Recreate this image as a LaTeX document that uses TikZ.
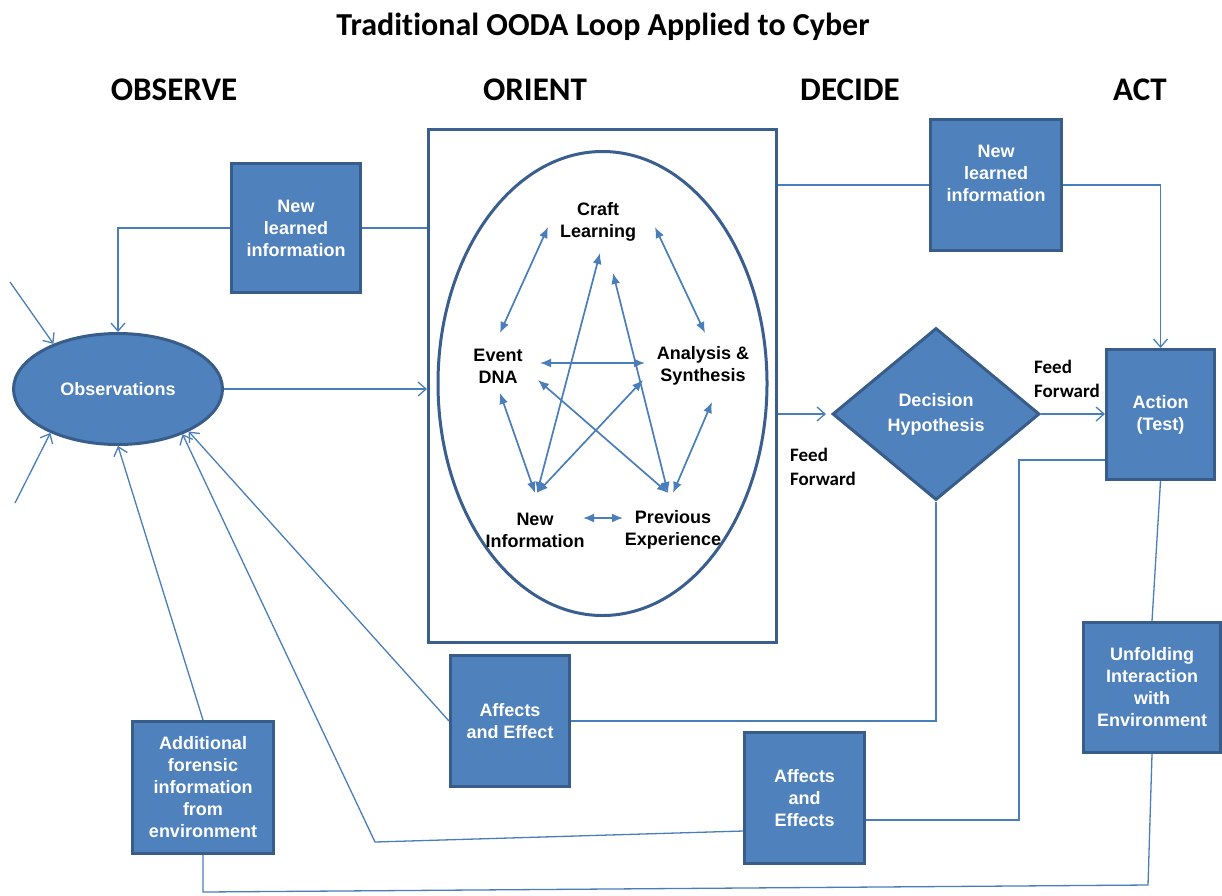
\documentclass[tikz,border=0pt]{standalone}
\usepackage{fontspec}
\setmainfont{Liberation Sans}
\newfontfamily\calib[Ligatures=NoCommon]{Carlito}
\usetikzlibrary{shapes.geometric,arrows.meta}
\definecolor{boxfill}{HTML}{4F81BD}
\definecolor{boxline}{HTML}{385D8A}
\definecolor{connc}{HTML}{4A7EBB}
\definecolor{frame}{HTML}{3A5F8E}
\tikzset{
  bluebox/.style={draw=boxline, line width=3pt, fill=boxfill, text=white,
    font=\bfseries\fontsize{18}{22}\selectfont, align=center, inner sep=0pt},
  boxtext/.style={text=white, font=\bfseries\fontsize{18}{22}\selectfont, align=center, inner sep=0pt},
  conn/.style={draw=connc, line width=1.3pt},
  arr/.style={conn, -{Straight Barb[length=8pt,width=14pt,line width=1.3pt]}},
  inarr/.style={draw=connc, line width=1.7pt, {Latex[length=11pt,width=9pt]}-{Latex[length=11pt,width=9pt]}},
  intext/.style={font=\bfseries\fontsize{18}{22}\selectfont, align=center, text=black, inner sep=0pt},
  headtext/.style={font=\calib\bfseries\fontsize{33}{36}\selectfont, anchor=base, inner sep=0pt},
  fftext/.style={font=\calib\bfseries\fontsize{19}{24}\selectfont, align=left, anchor=west, inner sep=0pt}
}
\begin{document}
\begin{tikzpicture}[x=1pt,y=-1pt]
\useasboundingbox (0,0) rectangle (1222,895);
% titles
\node[font=\calib\bfseries\fontsize{32}{36}\selectfont, anchor=base, inner sep=0pt] (title) at (603,35) {Traditional OODA Loop Applied to Cyber};
\node[headtext] (hobs) at (174,100) {OBSERVE};
\node[headtext] (hori) at (535,100) {ORIENT};
\node[headtext] (hdec) at (850,100) {DECIDE};
\node[headtext] (hact) at (1140,100) {ACT};

% orient frame and inner ellipse
\node[draw=frame, line width=3pt, fill=white, minimum width=348, minimum height=513, inner sep=0pt] (orient) at (602.5,386) {};
\node[draw=frame, line width=3pt, ellipse, minimum width=329, minimum height=464, inner sep=0pt] (inell) at (602.5,383.5) {};

% inner texts
\node[intext] (craft) at (598,222) {Craft\\Learning};
\node[intext] (event) at (498,366) {Event\\DNA};
\node[intext] (anal) at (703,366) {Analysis \&\\Synthesis};
\node[intext] (newinf) at (535,530) {New\\Information};
\node[intext] (prev) at (673,530) {Previous\\Experience};

% inner arrow endpoints
\coordinate (c1a) at (548,227); \coordinate (c1b) at (500,333);
\coordinate (c2a) at (655,227); \coordinate (c2b) at (705,333);
\coordinate (c3a) at (540,363); \coordinate (c3b) at (645,363);
\coordinate (c4a) at (500,393); \coordinate (c4b) at (535,493);
\coordinate (c5a) at (537,493); \coordinate (c5b) at (600,253);
\coordinate (c6a) at (537,493); \coordinate (c6b) at (643,380);
\coordinate (c7a) at (668,493); \coordinate (c7b) at (613,273);
\coordinate (c8a) at (668,493); \coordinate (c8b) at (538,380);
\coordinate (c9a) at (673,493); \coordinate (c9b) at (712,402);
\coordinate (c10a) at (583,518); \coordinate (c10b) at (623,518);
\foreach \i in {1,...,10} {\draw[inarr] (c\i a) -- (c\i b);}

% blue boxes
\node[bluebox] (nliL) at (296,228) [minimum width=129, minimum height=129] {New\\learned\\information};
\node[bluebox] (nliR) at (996,185) [minimum width=131, minimum height=131] {};
\node[boxtext] (nliRt) at (996,173) {New\\learned\\information};
\node[bluebox, ellipse, minimum width=209, minimum height=111] (obs) at (118,389) {Observations};
\node[bluebox, diamond, minimum width=207, minimum height=172] (dec) at (936,414) {Decision\\[3pt]Hypothesis};
\node[bluebox, minimum width=108, minimum height=130] (act) at (1160.5,414.5) {Action\\(Test)};
\node[bluebox, minimum width=119, minimum height=131] (ae1) at (510,721) {Affects\\and Effect};
\node[bluebox, minimum width=120, minimum height=131] (ae2) at (804.5,798) {Affects\\and\\Effects};
\node[bluebox, minimum width=137, minimum height=130] (unf) at (1152,687.5) {Unfolding\\Interaction\\with\\Environment};
\node[bluebox, minimum width=141, minimum height=132] (for) at (203,787.5) {Additional\\forensic\\information\\from\\environment};

% labels
\node[fftext] (ff1) at (790,467) {Feed\\Forward};
\node[fftext] (ff2) at (1034,379) {Feed\\Forward};

% outer connectors
\draw[conn] (orient.west |- nliL.east) -- (nliL.east);
\draw[arr] (nliL.west) -| (obs.north);
\draw[arr] (obs.east) -- (orient.west |- obs.east);
\draw[conn] (orient.east |- nliR.west) -- (nliR.west);
\draw[arr] (nliR.east) -| (act.north);
\draw[arr, shorten >=5pt] (orient.east |- dec.west) -- (dec.west);
\draw[arr] (dec.east) -- (act.west |- dec.east);
\draw[conn] (ae1.east) -| (dec.south);
\draw[arr] (ae1.west) -- (obs.329);
\coordinate (ae2l) at (743,831);
\coordinate (bendL) at (375,842);
\draw[arr] (ae2l) -- (bendL) -- (obs.325);
\coordinate (ae2r) at (866,820);
\coordinate (rup) at (1019,820);
\coordinate (rtop) at (1019,460);
\coordinate (actl) at (1105,460);
\draw[conn] (ae2r) -- (rup) -- (rtop) -- (actl);
\draw[conn] (unf.north) -- (act.south);
\coordinate (bR) at (1148,885);
\coordinate (bL) at (203,892);
\draw[conn] (unf.south) -- (bR) -- (bL) -- (for.south);
\draw[arr] (for.north) -- (obs.south);
\coordinate (in1) at (10,282);
\coordinate (in2) at (15,503);
\draw[arr] (in1) -- (obs.145);
\draw[arr] (in2) -- (obs.213);
\end{tikzpicture}
\end{document}
